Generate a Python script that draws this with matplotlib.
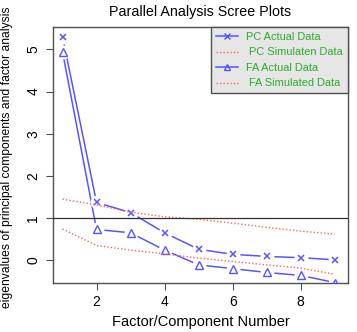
import matplotlib
matplotlib.use('Agg')
import matplotlib.pyplot as plt
from matplotlib.lines import Line2D

plt.rcParams['font.family'] = ['Liberation Sans', 'DejaVu Sans']

factors = [1, 2, 3, 4, 5, 6, 7, 8, 9]
pc_actual = [5.30, 1.37, 1.13, 0.65, 0.26, 0.14, 0.09, 0.06, 0.01]
pc_simulated = [1.45, 1.31, 1.14, 1.03, 0.97, 0.88, 0.78, 0.69, 0.62]
fa_actual = [4.94, 0.73, 0.65, 0.24, -0.11, -0.20, -0.29, -0.36, -0.53]
fa_simulated = [0.74, 0.35, 0.24, 0.15, 0.05, -0.03, -0.11, -0.19, -0.33]
legend_labels = ['PC Actual Data', ' PC Simulaten Data', 'FA Actual Data', ' FA Simulated Data']

blue = '#5555ff'
red = '#ff6060'
green = '#2eaa2e'
frame = '#505050'

fig = plt.figure(figsize=(3.57, 3.32), dpi=100)
ax = fig.add_axes([53 / 357, 1 - 283 / 332, 295 / 357, 256 / 332])

# R type="b": line with gaps around the points -> white discs behind markers
ax.plot(factors, pc_actual, color=blue, lw=1.1, zorder=1)
ax.plot(factors, fa_actual, color=blue, lw=1.1, zorder=1)
ax.plot(factors, pc_actual, ls='none', marker='o', ms=10, mfc='white', mec='none', zorder=2)
ax.plot(factors, fa_actual, ls='none', marker='o', ms=10, mfc='white', mec='none', zorder=2)
ax.plot(factors, pc_actual, ls='none', marker='x', ms=5, mew=1.1, color=blue, zorder=3)
ax.plot(factors, fa_actual, ls='none', marker='^', ms=6, mew=1.0, mfc='none', mec=blue, zorder=3)

ax.plot(factors, pc_simulated, color=red, lw=1, dashes=(1, 1.5), zorder=4)
ax.plot(factors, fa_simulated, color=red, lw=1, dashes=(1, 1.5), zorder=4)
ax.axhline(1, color='#303030', lw=0.9, zorder=4)

ax.set_xlim(0.72, 9.39)
ax.set_ylim(-0.54, 5.53)
ax.set_xticks([2, 4, 6, 8])
ax.set_yticks([0, 1, 2, 3, 4, 5])
for s in ax.spines.values():
    s.set_color(frame)
    s.set_linewidth(1.0)
ax.tick_params(direction='out', length=5, width=0.8, color=frame, labelsize=10, pad=4)
for lab in ax.get_yticklabels():
    lab.set_rotation(90)
    lab.set_va('center')

ax.set_title('Parallel Analysis Scree Plots', fontsize=10.3, pad=8)
ax.set_xlabel('Factor/Component Number', fontsize=10.5, labelpad=4)
ax.set_ylabel('eigenvalues of principal components and factor analysis', fontsize=8.7)
ax.yaxis.label.set_va('center')
ax.yaxis.set_label_coords(-46 / 295, 0.49)

handles = [
    Line2D([], [], color=blue, lw=1.1, marker='x', ms=4, mew=1.0),
    Line2D([], [], color=red, lw=1, dashes=(1, 1.5)),
    Line2D([], [], color=blue, lw=1.1, marker='^', ms=5, mew=1.0, mfc='none'),
    Line2D([], [], color=red, lw=1, dashes=(1, 1.5)),
]
leg = ax.legend(handles, legend_labels, loc='upper right', borderaxespad=0, fontsize=7.9,
                frameon=True, fancybox=False, facecolor='#e6e6e6', edgecolor=frame,
                framealpha=1, labelcolor=green, handlelength=2.0, handletextpad=0.8,
                labelspacing=0.5, borderpad=0.45)
leg.get_frame().set_linewidth(1.0)

fig.savefig('out.png', dpi=100)
